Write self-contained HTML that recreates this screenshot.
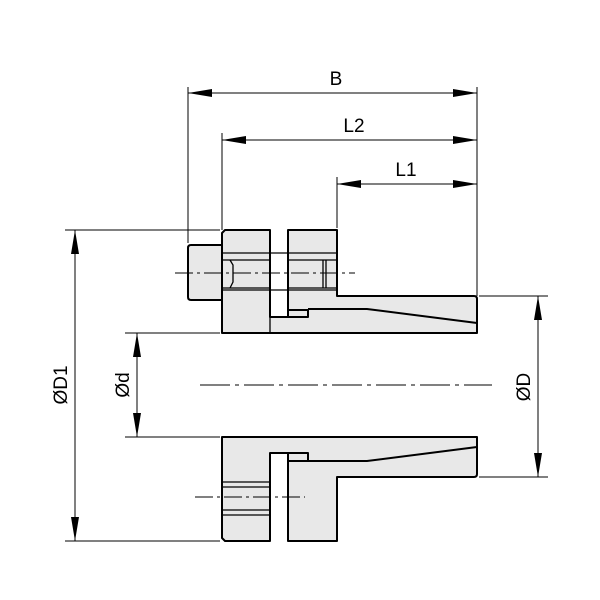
<!DOCTYPE html>
<html><head><style>body{margin:0;background:#fff}svg{display:block}</style></head><body>
<svg width="600" height="600" viewBox="0 0 600 600" xmlns="http://www.w3.org/2000/svg" font-family="Liberation Sans, Arial, sans-serif">
<defs>
<marker id="a" viewBox="0 0 24 8" refX="24" refY="4" markerWidth="24" markerHeight="8" markerUnits="userSpaceOnUse" orient="auto-start-reverse"><path d="M0,0 L24,4 L0,8 z" fill="#000"/></marker>
</defs>
<g fill="#e8e8e8" stroke="#000" stroke-width="2" stroke-linejoin="round">
<!-- top half -->
<path d="M225,230 H270 V317 H288 V230 H337 V296 H474 Q477,296 477,299 V333 H222 V233 Z"/>
<path d="M288,310 H308 V317 H288 Z"/>
<path d="M308,309 H367 L477,323" fill="none"/>
<path d="M191,245 H222 V300 H191 Q188,300 188,297 V248 Q188,245 191,245 Z"/>
<!-- bottom half -->
<path d="M222,437 H477 V474 Q477,477 474,477 H337 V541 H288 V453 H270 V541 H225 L222,538 Z"/>
<path d="M288,453 H308 V461 H288 Z"/>
<path d="M308,461 H367 L477,447" fill="none"/>
</g>
<g stroke="#000" stroke-width="1.3" fill="none">
<!-- bolt bore -->
<path d="M222,253 H337 M222,290 H337 M222,260 H270 M288,260 H337 M222,288 H270 M288,288 H337"/>
<path d="M230,260 L233,265 V282 L230,288 M323,260 V288 M326,260 V288"/>
<path d="M222,482 H270 M222,487 H270 M222,510 H270 M222,515 H270"/>
<path d="M270,230 V333 M288,230 V317"/>
</g>
<g stroke="#000" stroke-width="1" fill="none">
<!-- centerlines -->
<path d="M175,273 H355" stroke-dasharray="18,4,3,4"/>
<path d="M195,497 H305" stroke-dasharray="18,4,3,4"/>
<path d="M200,385 H492" stroke-dasharray="30,5,4,5"/>
<!-- extension lines -->
<path d="M188,87 V243 M222,133 V230 M337,177 V228 M477,87 V296"/>
<path d="M65,230 H220 M65,541 H220 M125,333 H220 M125,437 H220 M479,296 H548 M479,477 H548"/>
<!-- dimension lines -->
<path d="M188,93 H477" marker-start="url(#a)" marker-end="url(#a)"/>
<path d="M222,140 H477" marker-start="url(#a)" marker-end="url(#a)"/>
<path d="M337,184 H477" marker-start="url(#a)" marker-end="url(#a)"/>
<path d="M75,230 V541" marker-start="url(#a)" marker-end="url(#a)"/>
<path d="M137,333 V437" marker-start="url(#a)" marker-end="url(#a)"/>
<path d="M538,296 V477" marker-start="url(#a)" marker-end="url(#a)"/>
</g>
<g font-size="19" fill="#000" text-anchor="middle">
<text x="336" y="85">B</text>
<text x="354" y="132">L2</text>
<text x="406" y="176">L1</text>
<text transform="translate(67,385) rotate(-90)">ØD1</text>
<text transform="translate(129,385) rotate(-90)">Ød</text>
<text transform="translate(530,387) rotate(-90)">ØD</text>
</g>
</svg>
</body></html>
